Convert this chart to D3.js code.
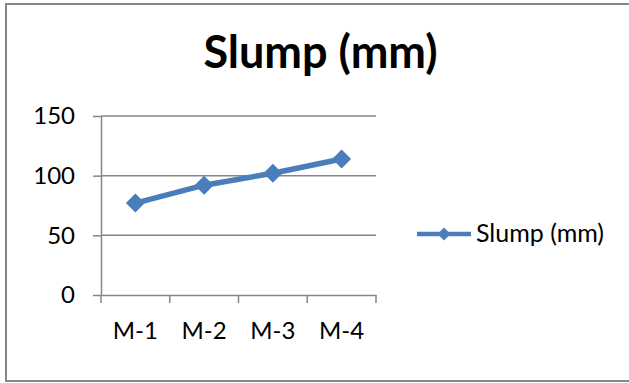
<!DOCTYPE html>
<html>
<head>
<meta charset="utf-8">
<script src="https://cdn.jsdelivr.net/npm/d3@7/dist/d3.min.js"></script>
<style>
  html, body { margin: 0; padding: 0; background: #fff; }
  svg { display: block; }
  text { font-family: Lato, "Open Sans", sans-serif; fill: #000; }
</style>
</head>
<body>
<svg id="chart" width="629" height="383"></svg>
<script>
const title = "Slump (mm)";
const seriesName = "Slump (mm)";
const categories = ["M-1", "M-2", "M-3", "M-4"];
const slumpValues = [77, 92, 102, 114];
const yTicks = [0, 50, 100, 150];

const W = 629, H = 383;
const plot = { left: 101, right: 376, top: 116, bottom: 295 };
const blue = "#4A7EBB";
const grey = "#868686";

const svg = d3.select("#chart");

// outer border
svg.append("rect")
  .attr("x", 6).attr("y", 4)
  .attr("width", W + 10).attr("height", 377)
  .attr("fill", "#fff").attr("stroke", grey).attr("stroke-width", 2);

const x = d3.scaleBand().domain(categories).range([plot.left, plot.right]).padding(0);
const y = d3.scaleLinear().domain([0, 150]).range([plot.bottom, plot.top]);

// gridlines
svg.append("g").selectAll("line").data(yTicks.filter(d => d > 0)).join("line")
  .attr("x1", plot.left).attr("x2", plot.right)
  .attr("y1", d => y(d)).attr("y2", d => y(d))
  .attr("stroke", grey).attr("stroke-width", 1.5);

// y axis
const yAxis = svg.append("g").attr("transform", `translate(${plot.left},0)`)
  .call(d3.axisLeft(y).tickValues(yTicks).tickSize(8).tickPadding(18).tickSizeOuter(0));
yAxis.select(".domain").attr("stroke", grey).attr("stroke-width", 1.5);
yAxis.selectAll(".tick line").attr("stroke", grey).attr("stroke-width", 1.5);
yAxis.selectAll(".tick text").attr("font-size", 24).attr("font-family", "Lato").attr("fill", "#000");

// x axis
const xAxis = svg.append("g").attr("transform", `translate(0,${plot.bottom})`)
  .call(d3.axisBottom(x).tickSize(0).tickPadding(27).tickSizeOuter(0));
xAxis.select(".domain").attr("stroke", grey).attr("stroke-width", 1.5);
xAxis.selectAll(".tick text").attr("font-size", 24).attr("font-family", "Lato").attr("fill", "#000");
// boundary ticks between categories
const bounds = categories.map(c => x(c)).concat([x(categories[categories.length - 1]) + x.bandwidth()]);
svg.append("g").selectAll("line").data(bounds).join("line")
  .attr("x1", d => d).attr("x2", d => d)
  .attr("y1", plot.bottom).attr("y2", plot.bottom + 8)
  .attr("stroke", grey).attr("stroke-width", 1.5);

// line
const cx = c => x(c) + x.bandwidth() / 2;
const data = categories.map((c, i) => ({ c, v: slumpValues[i] }));
svg.append("path").datum(data)
  .attr("fill", "none").attr("stroke", blue).attr("stroke-width", 5.5)
  .attr("stroke-linejoin", "round")
  .attr("d", d3.line().x(d => cx(d.c)).y(d => y(d.v)));

const diamond = d3.symbol().type(d3.symbolDiamond2);
svg.append("g").selectAll("path").data(data).join("path")
  .attr("transform", d => `translate(${cx(d.c)},${y(d.v)})`)
  .attr("d", diamond.size(230)())
  .attr("fill", blue);

// title
svg.append("text")
  .attr("x", 320.5).attr("y", 67.5)
  .attr("text-anchor", "middle")
  .attr("font-weight", "bold").attr("font-size", 45)
  .text(title);

// legend
const lg = svg.append("g").attr("transform", "translate(0,234)");
lg.append("line").attr("x1", 417).attr("x2", 471).attr("y1", 0).attr("y2", 0)
  .attr("stroke", blue).attr("stroke-width", 4.5);
lg.append("path").attr("transform", "translate(444,0)")
  .attr("d", d3.symbol().type(d3.symbolDiamond2).size(110)()).attr("fill", blue);
lg.append("text").attr("x", 476).attr("y", 8).attr("font-size", 25).text(seriesName);
</script>
</body>
</html>
